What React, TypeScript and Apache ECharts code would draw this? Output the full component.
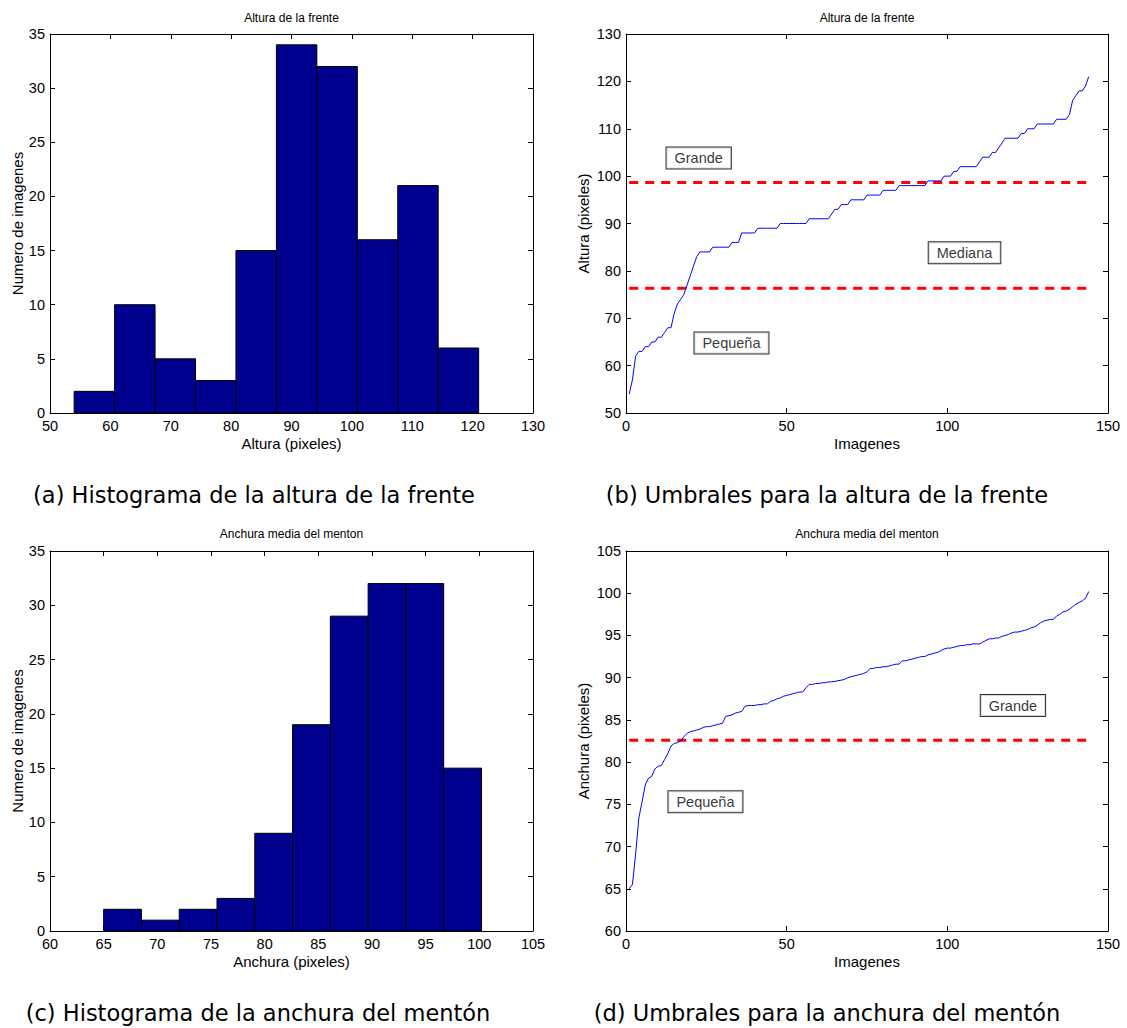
import React, { useEffect, useRef } from "react";
import * as echarts from "echarts";

// ---------- Data ----------
const alturaBinEdges = [54, 60.7, 67.4, 74.1, 80.8, 87.5, 94.2, 100.9, 107.6, 114.3, 121];
const alturaCounts = [2, 10, 5, 3, 15, 34, 32, 16, 21, 6];

const anchuraBinEdges = [65, 68.52, 72.04, 75.56, 79.08, 82.6, 86.12, 89.64, 93.16, 96.68, 100.2];
const anchuraCounts = [2, 1, 2, 3, 9, 19, 29, 32, 32, 15];

const alturaSorted = [
  54, 57, 62, 63, 63, 64, 64, 65, 65, 66,
  66, 67, 68, 68, 71, 73, 74, 75, 77, 79,
  81, 83, 84, 84, 84, 84, 85, 85, 85, 85,
  85, 85, 86, 86, 86, 88, 88, 88, 88, 88,
  89, 89, 89, 89, 89, 89, 89, 90, 90, 90,
  90, 90, 90, 90, 90, 90, 91, 91, 91, 91,
  91, 91, 91, 92, 93, 93, 94, 94, 94, 95,
  95, 95, 95, 95, 96, 96, 96, 96, 96, 97,
  97, 97, 97, 97, 98, 98, 98, 98, 98, 98,
  98, 98, 98, 99, 99, 99, 99, 99, 100, 100,
  100, 101, 101, 102, 102, 102, 102, 102, 102, 103,
  104, 104, 104, 105, 105, 106, 107, 108, 108, 108,
  108, 108, 109, 109, 110, 110, 110, 111, 111, 111,
  111, 111, 111, 112, 112, 112, 112, 113, 116, 117,
  118, 118, 119, 121,
];

const anchuraSorted = [
  65.0, 65.5, 69.1, 73.4, 75.3, 77.3, 78.1, 78.3, 79.2, 79.5,
  79.6, 80.3, 81.0, 81.9, 82.2, 82.3, 82.5, 83.0, 83.4, 83.6,
  83.7, 83.8, 83.9, 84.1, 84.2, 84.2, 84.3, 84.4, 84.5, 84.6,
  85.4, 85.5, 85.6, 85.8, 85.9, 86.0, 86.6, 86.7, 86.7, 86.7,
  86.8, 86.8, 86.9, 86.9, 87.2, 87.3, 87.5, 87.6, 87.8, 87.9,
  88.0, 88.1, 88.2, 88.3, 88.3, 88.8, 89.2, 89.2, 89.3, 89.3,
  89.4, 89.4, 89.5, 89.5, 89.55, 89.65, 89.7, 89.8, 90.0, 90.1,
  90.2, 90.3, 90.4, 90.5, 90.7, 91.1, 91.1, 91.2, 91.2, 91.3,
  91.3, 91.4, 91.5, 91.6, 91.6, 92.0, 92.0, 92.1, 92.2, 92.3,
  92.4, 92.5, 92.5, 92.7, 92.8, 92.9, 93.0, 93.2, 93.4, 93.5,
  93.5, 93.6, 93.7, 93.8, 93.8, 93.9, 93.9, 94.0, 94.0, 94.0,
  94.2, 94.4, 94.6, 94.6, 94.7, 94.7, 94.9, 95.0, 95.1, 95.3,
  95.4, 95.4, 95.5, 95.6, 95.7, 95.9, 96.0, 96.2, 96.5, 96.7,
  96.8, 96.9, 96.9, 97.3, 97.5, 97.8, 97.9, 98.1, 98.4, 98.7,
  98.9, 99.1, 99.4, 100.2,
];

const alturaThresholds = [76.33, 98.67];
const anchuraThresholds = [82.6];

const alturaRegionNames = ["Grande", "Mediana", "Pequeña"];
const alturaRegionAt = [[12.6, 103.8], [94.2, 83.8], [21.3, 64.8]];
const anchuraRegionNames = ["Grande", "Pequeña"];
const anchuraRegionAt = [[110.4, 86.7], [13.2, 75.3]];

const titles = ["Altura de la frente", "Altura de la frente", "Anchura media del menton", "Anchura media del menton"];
const captions = [
  "(a) Histograma de la altura de la frente",
  "(b) Umbrales para la altura de la frente",
  "(c) Histograma de la anchura del mentón",
  "(d) Umbrales para la anchura del mentón",
];

// ---------- Styling ----------
const FONT = "Liberation Sans";
const CAPFONT = "DejaVu Sans";

const grids = [
  { left: 50, top: 34, width: 483, height: 379 },
  { left: 626, top: 34, width: 482, height: 379 },
  { left: 50, top: 551, width: 483, height: 380 },
  { left: 626, top: 551, width: 482, height: 380 },
];

const axisBase = {
  axisLine: { show: true, onZero: false, lineStyle: { color: "#000", width: 1 } },
  axisTick: { show: true, inside: true, length: 5, lineStyle: { color: "#000", width: 1 } },
  splitLine: { show: false },
  axisLabel: { color: "#000", fontSize: 14.5, fontFamily: FONT, margin: 5 },
  nameTextStyle: { color: "#000", fontSize: 15, fontFamily: FONT },
};

function histSeries(edges: number[], counts: number[], idx: number) {
  return {
    type: "custom",
    xAxisIndex: idx,
    yAxisIndex: idx,
    data: counts.map((c, i) => [edges[i], edges[i + 1], c]),
    encode: { x: [0, 1], y: 2 },
    renderItem: (_p: any, api: any) => {
      const p0 = api.coord([api.value(0), api.value(2)]);
      const p1 = api.coord([api.value(1), 0]);
      return {
        type: "rect",
        shape: { x: p0[0], y: p0[1], width: p1[0] - p0[0], height: p1[1] - p0[1] },
        style: { fill: "#00008F", stroke: "#000", lineWidth: 1 },
      };
    },
  };
}

function curveSeries(vals: number[], idx: number) {
  return {
    type: "line",
    xAxisIndex: idx,
    yAxisIndex: idx,
    data: vals.map((v, i) => [i + 1, v]),
    showSymbol: false,
    symbol: "none",
    lineStyle: { color: "#0000FF", width: 1 },
    z: 3,
  };
}

function thresholdSeries(ts: number[], n: number, idx: number) {
  return ts.map((t) => ({
    type: "line",
    xAxisIndex: idx,
    yAxisIndex: idx,
    data: [[1, t], [n, t]],
    showSymbol: false,
    symbol: "none",
    lineStyle: { color: "#FF0000", width: 3, type: [9, 7] },
    z: 2,
  }));
}

function labelSeries(names: string[], at: number[][], idx: number) {
  return {
    type: "scatter",
    xAxisIndex: idx,
    yAxisIndex: idx,
    symbolSize: 0,
    data: names.map((nm, i) => [at[i][0], at[i][1], nm]),
    label: {
      show: true,
      position: "right",
      distance: 0,
      formatter: (p: any) => p.data[2],
      color: "#000",
      fontSize: 14.5,
      fontFamily: FONT,
      backgroundColor: "#fff",
      borderColor: "#000",
      borderWidth: 1,
      padding: [3, 8, 3, 8],
    },
    z: 5,
  };
}

export default function App() {
  const ref = useRef<HTMLDivElement>(null);
  useEffect(() => {
    if (!ref.current) return;
    const chart = echarts.init(ref.current, undefined, { renderer: "svg" });

    const xMain = [
      { min: 50, max: 130, interval: 10, name: "Altura (pixeles)", nameGap: 23 },
      { min: 0, max: 150, interval: 50, name: "Imagenes", nameGap: 23 },
      { min: 60, max: 105, interval: 5, name: "Anchura (pixeles)", nameGap: 23 },
      { min: 0, max: 150, interval: 50, name: "Imagenes", nameGap: 23 },
    ];
    const yMain = [
      { min: 0, max: 35, interval: 5, name: "Numero de imagenes", nameGap: 24 },
      { min: 50, max: 130, interval: 10, name: "Altura (pixeles)", nameGap: 35 },
      { min: 0, max: 35, interval: 5, name: "Numero de imagenes", nameGap: 24 },
      { min: 60, max: 105, interval: 5, name: "Anchura (pixeles)", nameGap: 35 },
    ];

    const xAxis: any[] = [];
    const yAxis: any[] = [];
    xMain.forEach((a, i) =>
      xAxis.push({ ...axisBase, type: "value", gridIndex: i, position: "bottom", nameLocation: "middle", ...a })
    );
    xMain.forEach((a, i) =>
      xAxis.push({
        ...axisBase, type: "value", gridIndex: i, position: "top",
        min: a.min, max: a.max, interval: a.interval, axisLabel: { show: false },
      })
    );
    yMain.forEach((a, i) =>
      yAxis.push({ ...axisBase, type: "value", gridIndex: i, position: "left", nameLocation: "middle", ...a })
    );
    yMain.forEach((a, i) =>
      yAxis.push({
        ...axisBase, type: "value", gridIndex: i, position: "right",
        min: a.min, max: a.max, interval: a.interval, axisLabel: { show: false },
      })
    );

    const series: any[] = [
      histSeries(alturaBinEdges, alturaCounts, 0),
      curveSeries(alturaSorted, 1),
      ...thresholdSeries(alturaThresholds, alturaSorted.length, 1),
      labelSeries(alturaRegionNames, alturaRegionAt, 1),
      histSeries(anchuraBinEdges, anchuraCounts, 2),
      curveSeries(anchuraSorted, 3),
      ...thresholdSeries(anchuraThresholds, anchuraSorted.length, 3),
      labelSeries(anchuraRegionNames, anchuraRegionAt, 3),
    ];

    const titleY = [18, 18, 534, 534];
    const capX = [254, 827, 258, 827];
    const capY = [495, 495, 1013, 1013];
    const graphic: any[] = [];
    grids.forEach((g, i) => {
      graphic.push({
        type: "text",
        x: g.left + g.width / 2,
        y: titleY[i],
        style: { text: titles[i], fill: "#000", font: `12px "${FONT}"`, textAlign: "center", textVerticalAlign: "middle" },
      });
      graphic.push({
        type: "text",
        x: capX[i],
        y: capY[i],
        style: { text: captions[i], fill: "#000", font: `22.5px "${CAPFONT}"`, textAlign: "center", textVerticalAlign: "middle" },
      });
    });

    chart.setOption({
      animation: false,
      backgroundColor: "#fff",
      grid: grids.map((g) => ({ ...g, containLabel: false })),
      xAxis,
      yAxis,
      series,
      graphic,
    });
    return () => chart.dispose();
  }, []);

  return (
    <div
      ref={ref}
      style={{ position: "absolute", left: 0, top: 0, width: 1127, height: 1028, background: "#fff" }}
    />
  );
}
